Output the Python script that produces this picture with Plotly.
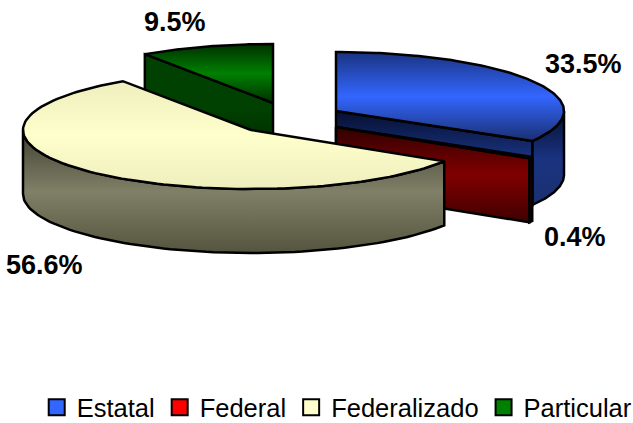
import numpy as np
import plotly.graph_objects as go

categories = ['Estatal', 'Federal', 'Federalizado', 'Particular']
shares = [33.5, 0.4, 56.6, 9.5]
legend_colors = ['#3366FF', '#FF0000', '#FFFFCC', '#008000']

# pie geometry, in pixels of the page
rx, ry, depth = 228, 59, 64
centers = {'Estatal': (336, 111), 'Federal': (336, 127), 'Federalizado': (251, 130), 'Particular': (273, 103)}
draw_order = ['Particular', 'Estatal', 'Federal', 'Federalizado']
label_pos = {'Estatal': (583, 64), 'Federal': (575, 237), 'Federalizado': (44, 265), 'Particular': (175, 22)}

top_scale = {
    'Estatal': ['#1A2F70', '#3366FF', '#1A3380'],
    'Federal': ['#400000', '#800000', '#400000'],
    'Federalizado': ['#EEEEBE', '#FFFFCC', '#EEEEBE'],
    'Particular': ['#003000', '#008000', '#003000'],
}
side_scale = {
    'Estatal': ['#1A3070', '#1A3380', '#050F30'],
    'Federal': ['#400000', '#800000', '#300000'],
    'Federalizado': ['#55553F', '#808068', '#404030'],
    'Particular': ['#002000', '#004000', '#004000'],
}


def point(c, a, dz=0):
    t = np.radians(a)
    return c[0] + rx * np.sin(t), c[1] - ry * np.cos(t) + dz


def poly(xs, ys, colors):
    stops = [[i / (len(colors) - 1), col] for i, col in enumerate(colors)]
    return go.Scatter(
        x=list(xs) + [xs[0]], y=list(ys) + [ys[0]],
        mode='lines', fill='toself',
        fillgradient=dict(type='vertical', colorscale=stops),
        line=dict(color='black', width=2.5),
        hoverinfo='skip', showlegend=False,
    )


fig = go.Figure()

starts = np.cumsum([0] + shares[:-1]) * 3.6
ends = np.cumsum(shares) * 3.6
spans = {n: (s, e) for n, s, e in zip(categories, starts, ends)}

for name in draw_order:
    c = centers[name]
    a0, a1 = spans[name]

    # outer wall, only the part that faces the viewer
    w0, w1 = max(a0, 90), min(a1, 270)
    if w1 > w0:
        arc = np.linspace(w0, w1, 80)
        upper = [point(c, a) for a in arc]
        lower = [point(c, a, depth) for a in arc[::-1]]
        pts = upper + lower
        fig.add_trace(poly([p[0] for p in pts], [p[1] for p in pts], side_scale[name]))

    # cut face
    face = None
    if 0 < a1 < 180:
        face = a1
    elif 180 < a0 < 360:
        face = a0
    if face is not None:
        e = point(c, face)
        xs = [c[0], e[0], e[0], c[0]]
        ys = [c[1], e[1], e[1] + depth, c[1] + depth]
        fig.add_trace(poly(xs, ys, side_scale[name]))

    # top
    arc = np.linspace(a0, a1, 120)
    pts = [c] + [point(c, a) for a in arc]
    fig.add_trace(poly([p[0] for p in pts], [p[1] for p in pts], top_scale[name]))

for name, col in zip(categories, legend_colors):
    fig.add_trace(go.Scatter(
        x=[None], y=[None], mode='markers', name=name,
        marker=dict(symbol='square', size=16, color=col, line=dict(color='black', width=2)),
    ))

for name, v in zip(categories, shares):
    fig.add_annotation(
        x=label_pos[name][0], y=label_pos[name][1], text=f'{v}%', showarrow=False,
        font=dict(family='Liberation Sans', size=27, color='black', weight='bold'),
    )

fig.update_xaxes(range=[0, 633], visible=False, fixedrange=True)
fig.update_yaxes(range=[423, 0], visible=False, fixedrange=True)
fig.update_layout(
    width=633, height=423,
    margin=dict(l=0, r=0, t=0, b=0, autoexpand=False),
    plot_bgcolor='white', paper_bgcolor='white',
    font=dict(family='Liberation Sans', size=25.5, color='black'),
    legend=dict(orientation='h', x=0.058, xanchor='left', y=0.036, yanchor='middle',
                itemwidth=30, tracegroupgap=0, bgcolor='rgba(0,0,0,0)'),
)

# the page's default body margin would push the figure out of the window
fig.write_html("out.html", config={'displayModeBar': False},
               post_script="document.body.style.margin = '0';")
